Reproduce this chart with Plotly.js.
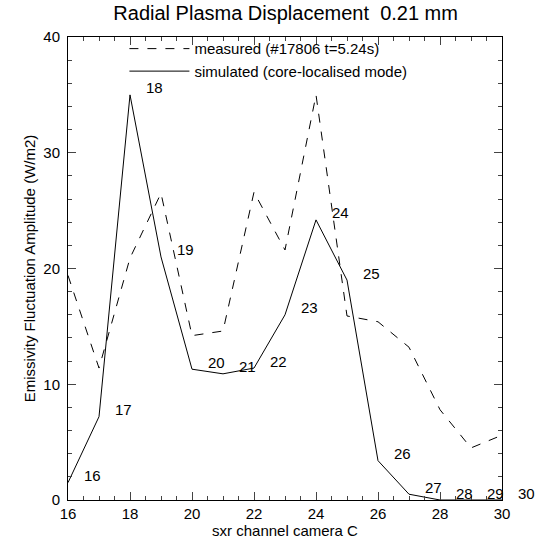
<!DOCTYPE html><html><head><script src="https://cdn.plot.ly/plotly-3.0.1.min.js"></script></head><body style="margin:0"><div id="c" style="width:539px;height:555px"></div><script>
const channels=[16,17,18,19,20,21,22,23,24,25,26,27,28,29,30];
const measured=[19.4,11.4,20.9,26.5,14.2,14.6,26.6,21.6,35,15.9,15.4,13.2,7.8,4.5,5.6];
const simulated=[1.5,7.2,35,21,11.3,10.9,11.4,16,24.2,19,3.4,0.5,0,0,0];
const labels=channels.map(String);
const ann=channels.map((c,i)=>({x:(c+0.8-16)/14,y:(simulated[i]+0.6)/40,xanchor:'center',yanchor:'middle',text:labels[i],showarrow:false,xref:'paper',yref:'paper',font:{size:15,color:'#000'}}));
Plotly.newPlot('c',[
{x:channels,y:measured,mode:'lines',line:{color:'#000',dash:'dash',width:1},name:'measured (#17806 t=5.24s)'},
{x:channels,y:simulated,mode:'lines',line:{color:'#000',width:1},name:'simulated (core-localised mode)'}
],{width:539,height:555,margin:{l:68,r:37,t:37,b:55},paper_bgcolor:'#fff',plot_bgcolor:'#fff',
font:{family:'Liberation Sans, Arial',size:15,color:'#000'},
title:{text:'Radial Plasma Displacement  0.21 mm',font:{size:20},y:0.99,yanchor:'top',x:0.53},
showlegend:true,legend:{x:0.13,y:1.01,xanchor:'left',yanchor:'top',bgcolor:'rgba(0,0,0,0)',font:{size:15},itemwidth:60,tracegroupgap:0},
xaxis:{range:[16,30],dtick:2,ticks:'inside',ticklen:8,mirror:'allticks',showline:true,linecolor:'#000',showgrid:false,zeroline:false,minor:{dtick:0.5,ticks:'inside',ticklen:4},title:{text:'sxr channel camera C',font:{size:15},standoff:2}},
yaxis:{range:[0,40],dtick:10,ticks:'inside',ticklen:8,ticklabelstandoff:4,mirror:'allticks',showline:true,linecolor:'#000',showgrid:false,zeroline:false,minor:{dtick:2,ticks:'inside',ticklen:4},title:{text:'Emissivity Fluctuation Amplitude (W/m2)',font:{size:15},standoff:4}},
annotations:ann},{displayModeBar:false});
</script></body></html>
